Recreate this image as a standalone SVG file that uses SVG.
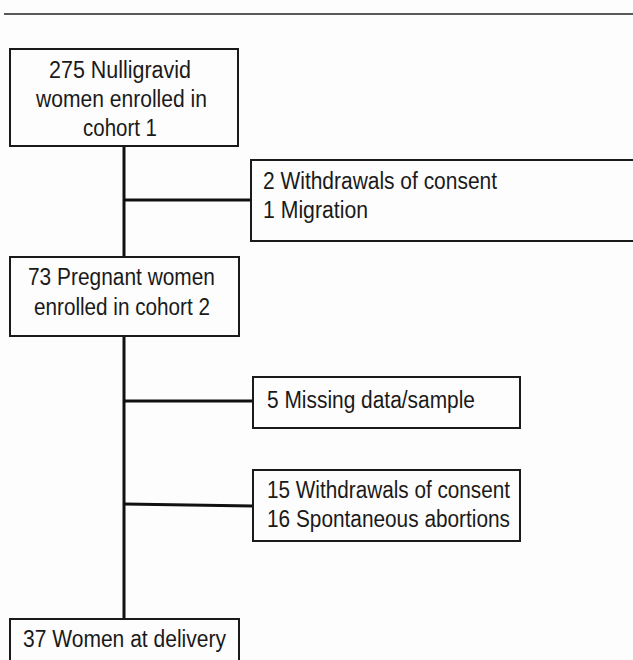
<svg xmlns="http://www.w3.org/2000/svg" width="633" height="660" viewBox="0 0 633 660">
<style>
.box{fill:#fdfdfd;stroke:#1a1a1a;stroke-width:2}
.ln{stroke:#111;stroke-width:3;fill:none}
text{font-family:"Liberation Sans",Arial,sans-serif;font-size:23.5px;fill:#1a1a1a}
</style>
<rect x="0" y="0" width="633" height="660" fill="#fdfdfd"/>
<line x1="4" y1="14" x2="633" y2="14" stroke="#222" stroke-width="1.5"/>
<g id="connectors">
<line class="ln" x1="124" y1="146" x2="124" y2="257"/>
<line class="ln" x1="124" y1="200" x2="252" y2="200"/>
<line class="ln" x1="124" y1="336" x2="124" y2="619"/>
<line class="ln" x1="124" y1="401" x2="253" y2="401"/>
<line class="ln" x1="124" y1="504" x2="253" y2="506"/>
</g>
<g id="n1">
<rect class="box" x="10" y="49" width="228" height="97"/>
<text x="49" y="78" textLength="142" lengthAdjust="spacingAndGlyphs">275 Nulligravid</text>
<text x="36" y="107" textLength="171" lengthAdjust="spacingAndGlyphs">women enrolled in</text>
<text x="83" y="136" textLength="74" lengthAdjust="spacingAndGlyphs">cohort 1</text>
</g>
<g id="n2">
<rect class="box" x="251" y="160" width="384" height="81"/>
<text x="263" y="189" textLength="234" lengthAdjust="spacingAndGlyphs">2 Withdrawals of consent</text>
<text x="263" y="218" textLength="105" lengthAdjust="spacingAndGlyphs">1 Migration</text>
</g>
<g id="n3">
<rect class="box" x="10" y="257" width="229" height="79"/>
<text x="28" y="285" textLength="187" lengthAdjust="spacingAndGlyphs">73 Pregnant women</text>
<text x="34" y="315" textLength="176" lengthAdjust="spacingAndGlyphs">enrolled in cohort 2</text>
</g>
<g id="n4">
<rect class="box" x="253" y="377" width="267" height="51"/>
<text x="267" y="408" textLength="208" lengthAdjust="spacingAndGlyphs">5 Missing data/sample</text>
</g>
<g id="n5">
<rect class="box" x="253" y="470" width="267" height="71"/>
<text x="267" y="498" textLength="243" lengthAdjust="spacingAndGlyphs">15 Withdrawals of consent</text>
<text x="267" y="527" textLength="243" lengthAdjust="spacingAndGlyphs">16 Spontaneous abortions</text>
</g>
<g id="n6">
<rect class="box" x="10" y="619" width="229" height="60"/>
<text x="23" y="647" textLength="203" lengthAdjust="spacingAndGlyphs">37 Women at delivery</text>
</g>
</svg>
